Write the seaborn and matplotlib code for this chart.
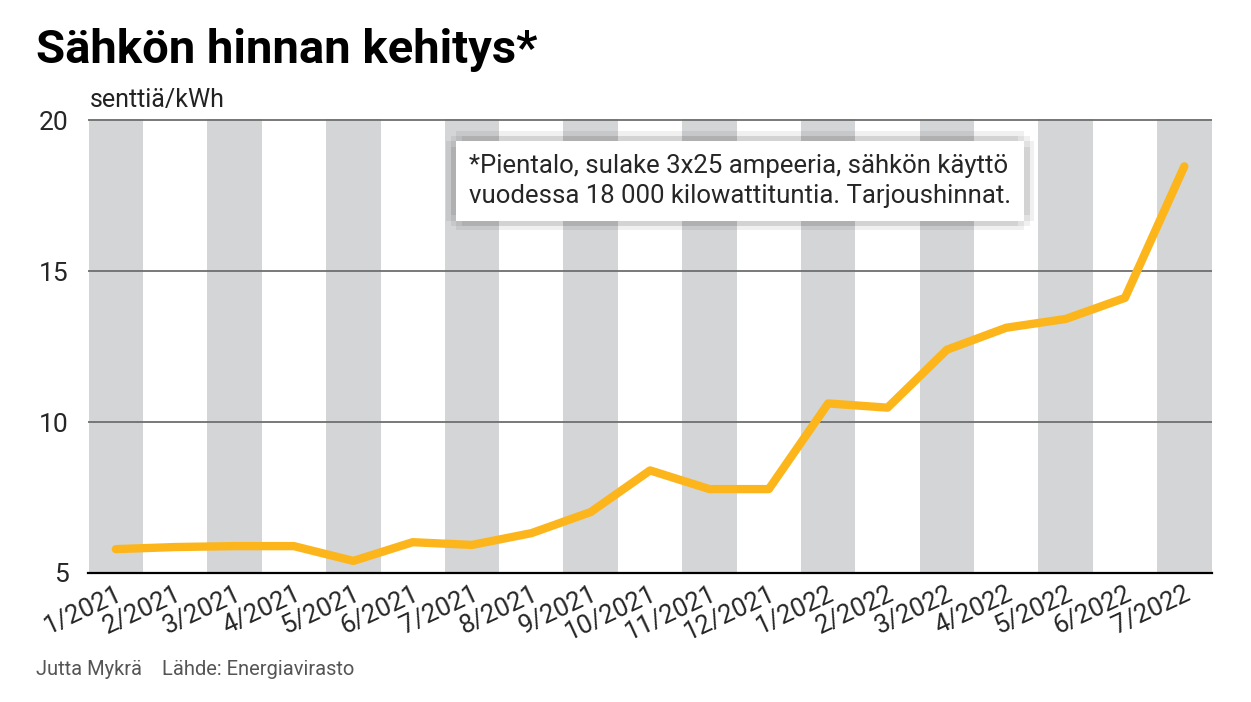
import matplotlib
matplotlib.use("Agg")
import matplotlib.pyplot as plt
import matplotlib.patheffects as pe
import seaborn as sns
import pandas as pd

months = ["1/2021","2/2021","3/2021","4/2021","5/2021","6/2021","7/2021","8/2021","9/2021",
          "10/2021","11/2021","12/2021","1/2022","2/2022","3/2022","4/2022","5/2022","6/2022","7/2022"]
prices = [5.79,5.86,5.89,5.89,5.40,6.02,5.93,6.32,7.02,8.40,7.78,7.78,10.62,10.48,12.40,13.13,13.42,14.12,18.48]
yticks = [5,10,15,20]

sns.set_theme(style="white")
plt.rcParams['font.family'] = ['Roboto', 'DejaVu Sans']

df = pd.DataFrame({"i": range(len(months)), "p": prices})
fig = plt.figure(figsize=(12.51, 7.02), dpi=100)
ax = fig.add_axes([0.0703, 0.1838, 0.8987, 0.6467])

for i in range(0, len(months), 2):
    ax.axvspan(i - 0.46, i + 0.46, color="#d4d5d6", lw=0, zorder=0)
for y in yticks[1:]:
    ax.axhline(y, color="#6e6e6e", lw=1.3, zorder=1)

sns.lineplot(data=df, x="i", y="p", ax=ax, color="#fcb61c", lw=6, zorder=3)

ax.set_xlim(-0.47, len(months) - 0.53)
ax.set_ylim(5, 20.05)
ax.set_yticks(yticks)
ax.set_yticklabels([str(v) for v in yticks], fontsize=19)
ax.set_xticks(range(len(months)))
ax.set_xticklabels(months, rotation=25, ha="right", rotation_mode="anchor", fontsize=18.5)
ax.tick_params(axis="x", length=0, pad=6)
ax.tick_params(axis="y", length=0, pad=14)
ax.set_xlabel(""); ax.set_ylabel("")
for s in ["top", "right", "left"]:
    ax.spines[s].set_visible(False)
ax.spines["bottom"].set_color("black")
ax.spines["bottom"].set_linewidth(1.6)

t = ax.text(5.95, 18.0, "*Pientalo, sulake 3x25 ampeeria, sähkön käyttö\nvuodessa 18 000 kilowattituntia. Tarjoushinnat.",
            fontsize=18.5, linespacing=1.3, va="center", ha="left", zorder=5,
            bbox=dict(boxstyle="square,pad=0.5", fc="white", ec="none"))
shadows = [pe.SimplePatchShadow(offset=(dx, dy), shadow_rgbFace="#000000", alpha=0.06, rho=1)
           for dx, dy in [(-4, 4), (4, 4), (-4, -4), (4, -4), (0, -7), (7, 0), (-7, 0), (0, 7), (0, 0)]]
t.get_bbox_patch().set_path_effects(shadows + [pe.Normal()])

fig.text(0.029, 0.91, "Sähkön hinnan kehitys*", fontsize=34, fontweight="bold", color="black")
fig.text(0.072, 0.848, "senttiä/kWh", fontsize=18, color="#222222")
fig.text(0.029, 0.038, "Jutta Mykrä    Lähde: Energiavirasto", fontsize=14.5, color="#555555")

fig.savefig("out.png", dpi=100)
